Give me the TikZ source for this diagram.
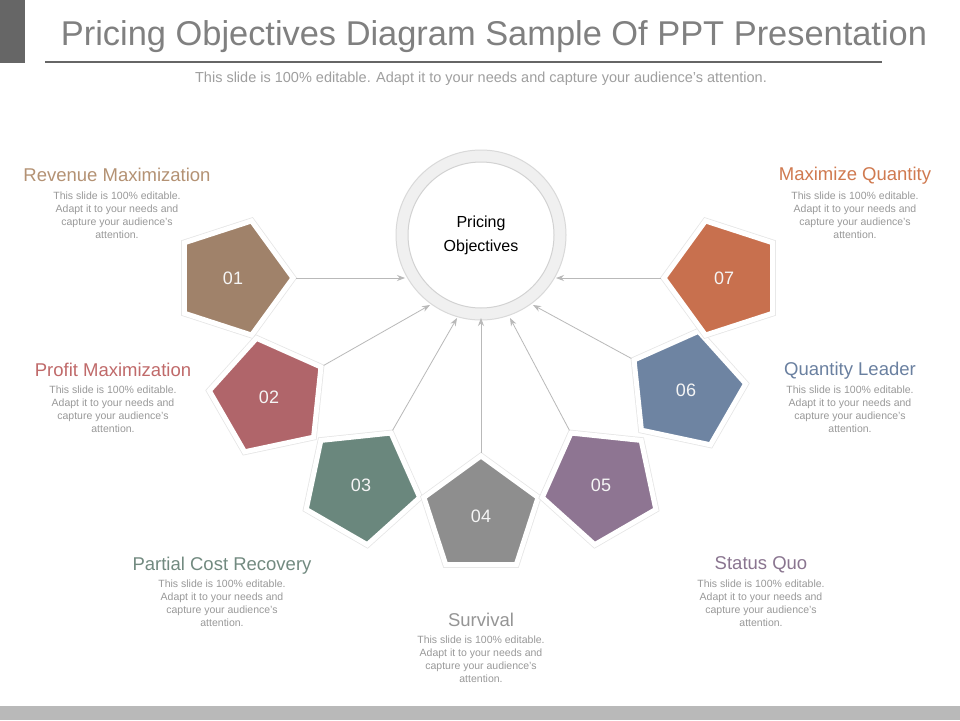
\documentclass[tikz,border=0pt]{standalone}
\usepackage{fontspec}
\setmainfont{Liberation Sans}
\usetikzlibrary{shapes.geometric,arrows.meta}
\definecolor{c1}{HTML}{A0826A}\definecolor{h1}{HTML}{B49274}
\definecolor{c2}{HTML}{B0656A}\definecolor{h2}{HTML}{C06A6A}
\definecolor{c3}{HTML}{6A877D}\definecolor{h3}{HTML}{728A80}
\definecolor{c4}{HTML}{8E8E8E}\definecolor{h4}{HTML}{959595}
\definecolor{c5}{HTML}{8E7592}\definecolor{h5}{HTML}{8A7590}
\definecolor{c6}{HTML}{6E84A2}\definecolor{h6}{HTML}{6A80A0}
\definecolor{c7}{HTML}{C8704E}\definecolor{h7}{HTML}{D07A50}
\tikzset{
 pent/.style={regular polygon,regular polygon sides=5,minimum size=120pt,inner sep=0pt,
   fill=#1,draw=white,line width=5pt,font=\fontsize{18}{18}\selectfont,text=white!92!gray,
   preaction={draw=gray!20,line width=6.5pt}},
 conn/.style={draw=gray!55,line width=0.8pt,-{Stealth[length=8pt,width=6pt]}},
 head/.style={font=\fontsize{18.5}{18.5}\selectfont,text=#1,anchor=base},
 body/.style={font=\fontsize{10.5}{13}\selectfont,text=gray!80,align=center,anchor=north},
}
\newcommand{\bodytxt}{This slide is 100\% editable.\\Adapt it to your needs and\\capture your audience's\\attention.}
\begin{document}
\begin{tikzpicture}[x=1pt,y=-1pt]
\useasboundingbox (0,0) rectangle (960,720);
\fill[white] (0,0) rectangle (960,720);
\fill[gray!80!black] (0,0) rectangle (25,63);
\draw[gray!80!black,line width=1.2pt] (45,62) -- (882,62);
\node[font=\fontsize{34.4}{34.4}\selectfont,text=gray,anchor=base] (title) at (494,45) {Pricing Objectives Diagram Sample Of PPT Presentation};
\node[font=\fontsize{14.5}{14.5}\selectfont,text=gray!75,anchor=base] (sub) at (481,82) {This slide is 100\% editable. Adapt it to your needs and capture your audience's attention.};
\fill[gray!55] (0,706) rectangle (960,720);
% centre
\node[circle,minimum size=170pt,fill=gray!12,draw=gray!30,line width=1pt] (ring) at (481,235) {};
\node[circle,minimum size=146pt,fill=white,draw=gray!35,line width=1pt,align=center,font=\fontsize{16}{24}\selectfont] (c) at (481,235) {Pricing\\Objectives};
% pentagons
\node[pent=c1,shape border rotate=-90] (p1) at (233,278) {01};
\node[pent=c2,shape border rotate=-60] (p2) at (269,397) {02};
\node[pent=c3,shape border rotate=-30] (p3) at (361,485) {03};
\node[pent=c4,shape border rotate=0] (p4) at (481,516) {04};
\node[pent=c5,shape border rotate=30] (p5) at (601,485) {05};
\node[pent=c6,shape border rotate=60] (p6) at (686,390) {06};
\node[pent=c7,shape border rotate=90] (p7) at (724,278) {07};
\coordinate (e1) at (405,278);\coordinate (e2) at (430,305);\coordinate (e3) at (457,318);
\coordinate (e4) at (481,318);\coordinate (e5) at (510,318);\coordinate (e6) at (533,305);
\coordinate (e7) at (556,278);
\foreach \i in {1,...,7}{\draw[conn] (p\i.corner 1) -- (e\i);}
% labels
\node[head=h1] (t1) at (117,181) {Revenue Maximization};
\node[body] (b1) at (117,188) {\bodytxt};
\node[head=h2] (t2) at (113,376) {Profit Maximization};
\node[body] (b2) at (113,382) {\bodytxt};
\node[head=h3] (t3) at (222,570) {Partial Cost Recovery};
\node[body] (b3) at (222,576) {\bodytxt};
\node[head=h4] (t4) at (481,626) {Survival};
\node[body] (b4) at (481,632) {\bodytxt};
\node[head=h5] (t5) at (761,569) {Status Quo};
\node[body] (b5) at (761,576) {\bodytxt};
\node[head=h6] (t6) at (850,375) {Quantity Leader};
\node[body] (b6) at (850,382) {\bodytxt};
\node[head=h7] (t7) at (855,180) {Maximize Quantity};
\node[body] (b7) at (855,188) {\bodytxt};
\end{tikzpicture}
\end{document}
